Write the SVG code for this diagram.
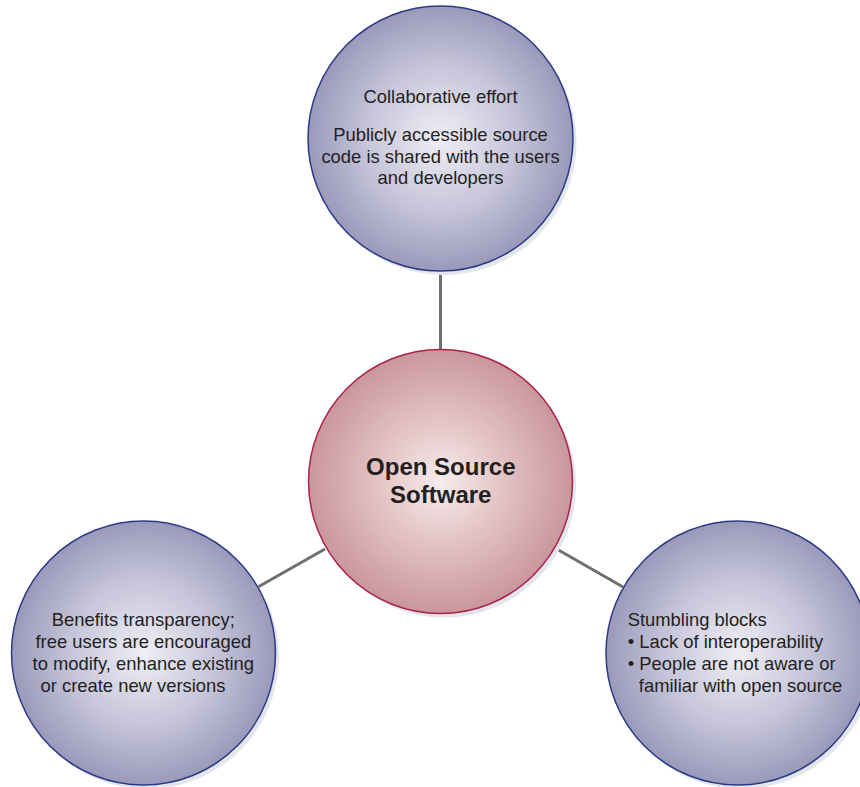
<svg xmlns="http://www.w3.org/2000/svg" width="860" height="787" viewBox="0 0 860 787">
  <defs>
    <radialGradient id="gradBlue" cx="0.5" cy="0.5" r="0.5">
      <stop offset="0" stop-color="#efeef5"/>
      <stop offset="0.55" stop-color="#c6c5da"/>
      <stop offset="1" stop-color="#9a99ba"/>
    </radialGradient>
    <radialGradient id="gradRose" cx="0.5" cy="0.5" r="0.5">
      <stop offset="0" stop-color="#f7ecec"/>
      <stop offset="0.55" stop-color="#e0bcbe"/>
      <stop offset="1" stop-color="#c9979b"/>
    </radialGradient>
    <style>
      .shadow { fill: #e4e6ee; }
      .blue { fill: url(#gradBlue); stroke: #2b3a86; stroke-width: 1.5; }
      .rose { fill: url(#gradRose); stroke: #ad2149; stroke-width: 1.5; }
      .link { stroke: #6f6f6f; stroke-width: 3; fill: none; }
      text { font-family: "Liberation Sans", Arial, Helvetica, sans-serif; fill: #231f20; }
      .body { font-size: 18.4px; }
      .mid { text-anchor: middle; }
      .title { font-size: 24px; font-weight: bold; text-anchor: middle; }
    </style>
  </defs>

  <rect width="860" height="787" fill="#ffffff"/>

  <!-- connectors between the hub and the three satellites -->
  <g id="connectors">
    <line class="link" x1="440.5" y1="272" x2="440.5" y2="350"/>
    <line class="link" x1="258" y1="587" x2="325" y2="549"/>
    <line class="link" x1="555" y1="548" x2="623" y2="587"/>
  </g>

  <!-- top satellite -->
  <g id="node-collaborative">
    <circle class="shadow" cx="444" cy="142.5" r="132.5"/>
    <circle class="blue" cx="440.5" cy="138.5" r="132.5"/>
    <text class="body mid" x="440.5" y="103.3">Collaborative effort</text>
    <text class="body mid" x="440.5" y="140.7">Publicly accessible source</text>
    <text class="body mid" x="440.5" y="162.5">code is shared with the users</text>
    <text class="body mid" x="440.5" y="184.3">and developers</text>
  </g>

  <!-- hub -->
  <g id="node-oss">
    <circle class="shadow" cx="444" cy="485.5" r="132"/>
    <circle class="rose" cx="440.5" cy="481.5" r="132"/>
    <text class="title" x="440.8" y="475">Open Source</text>
    <text class="title" x="440.8" y="503">Software</text>
  </g>

  <!-- left satellite -->
  <g id="node-benefits">
    <circle class="shadow" cx="147" cy="657" r="132"/>
    <circle class="blue" cx="143.5" cy="653" r="132"/>
    <text class="body mid" x="143.3" y="626">Benefits transparency;</text>
    <text class="body mid" x="143.3" y="647.8">free users are encouraged</text>
    <text class="body mid" x="143.3" y="669.8">to modify, enhance existing</text>
    <text class="body mid" x="133" y="691.7">or create new versions</text>
  </g>

  <!-- right satellite -->
  <g id="node-stumbling">
    <circle class="shadow" cx="741.5" cy="657" r="132"/>
    <circle class="blue" cx="738" cy="653" r="132"/>
    <text class="body" x="627.7" y="626">Stumbling blocks</text>
    <text class="body" x="627.7" y="647.8">• Lack of interoperability</text>
    <text class="body" x="627.7" y="669.8">• People are not aware or</text>
    <text class="body" x="638.8" y="691.7">familiar with open source</text>
  </g>
</svg>
